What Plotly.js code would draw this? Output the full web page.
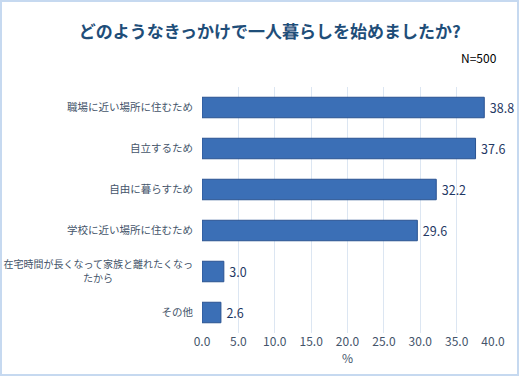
<!DOCTYPE html>
<html><head><meta charset="utf-8">
<script src="https://cdn.plot.ly/plotly-3.0.1.min.js"></script>
<style>
html,body{margin:0;padding:0;background:#fff;}
#c{width:519px;height:376px;box-sizing:border-box;border:2px solid #C6D9F0;}
</style></head>
<body><div id="c"></div>
<script>
const categories = ["職場に近い場所に住むため","自立するため","自由に暮らすため","学校に近い場所に住むため","<span style=\"font-size:10px\">在宅時間が長くなって家族と離れたくなっ<br>たから　　　　　　　　</span>","その他"];
const values = [38.8, 37.6, 32.2, 29.6, 3.0, 2.6];
const tickVals = [0,5,10,15,20,25,30,35,40];
const tickText = ["0.0","5.0","10.0","15.0","20.0","25.0","30.0","35.0","40.0"];
const titleText = "どのようなきっかけで一人暮らしを始めましたか?";
const noteText = "N=500";

const font = "'Noto Sans CJK JP', 'Noto Sans', sans-serif";
const trace = {
  type:"bar", orientation:"h",
  y: categories, x: values,
  text: values.map(v=>"\u2009"+v.toFixed(1)),
  textposition:"outside", cliponaxis:false,
  textfont:{family:font,size:12.5,color:"#1F3864"},
  marker:{color:"#3B6FB6", line:{color:"#2A5391",width:1}},
  width:0.5, hoverinfo:"none"
};
const layout = {
  width:515, height:372,
  margin:{l:200,r:24,t:85,b:41},
  paper_bgcolor:"#fff", plot_bgcolor:"#fff",
  showlegend:false,
  title:{text:"<b>"+titleText+"</b>", x:0.52, xanchor:"center", y:0.92, yanchor:"middle",
    font:{family:font,size:17,color:"#1F4E79"}},
  xaxis:{range:[0,40], tickvals:tickVals, ticktext:tickText, showgrid:true, gridcolor:"#DCE6F2", gridwidth:1,
    zeroline:false, showline:false, ticks:"",
    tickfont:{family:font,size:12,color:"#44546A"},
    title:{text:"%", font:{family:font,size:12,color:"#44546A"}, standoff:2}},
  yaxis:{categoryorder:"array", categoryarray:categories, autorange:"reversed",
    showgrid:false, zeroline:false, showline:false, ticks:"", ticklabelstandoff:8,
    tickfont:{family:font,size:10.5,color:"#44546A"}},
  annotations:[{text:noteText, xref:"paper", yref:"paper", x:1.02, y:1.12, xanchor:"right", yanchor:"middle",
    showarrow:false, font:{family:font,size:12,color:"#000"}}],
  font:{family:font}
};
Plotly.newPlot("c",[trace],layout,{displayModeBar:false,staticPlot:true});
</script></body></html>
